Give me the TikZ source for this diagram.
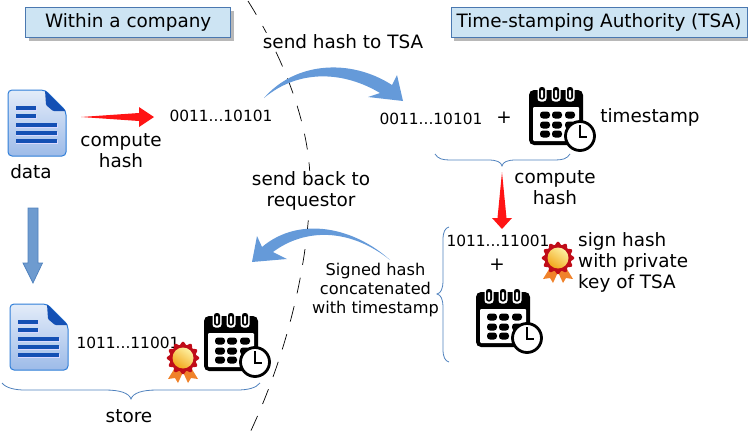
\documentclass[tikz,border=0pt]{standalone}
\usepackage{fontspec}
\setmainfont{DejaVu Sans}
\definecolor{bluearrow}{HTML}{659AD9}
\definecolor{bluebar}{HTML}{6E9BCF}
\definecolor{bracecol}{HTML}{4F81BD}
\definecolor{boxfill}{HTML}{CDE4F3}
\definecolor{boxline}{HTML}{4A78B0}
\definecolor{docline}{HTML}{1450B4}
\definecolor{docedge}{HTML}{2F7ED8}
\definecolor{doctop}{HTML}{E3ECF9}
\definecolor{docbottom}{HTML}{9DBBE8}
\definecolor{arrowred}{HTML}{FF1414}
\definecolor{sealred}{HTML}{C00C18}
\definecolor{sealgold}{HTML}{F2A81C}
\definecolor{seallight}{HTML}{FDF0A0}
\definecolor{ribbon}{HTML}{F0822A}
\tikzset{
  title/.style={rectangle,draw=boxline,line width=0.8pt,fill=boxfill,inner sep=0pt,
    minimum height=29.5pt,text=black,font=\fontsize{18.4}{21}\selectfont},
  shadowbox/.style={fill=black!28},
  label/.style={font=\fontsize{18.4}{21}\selectfont,align=center,inner sep=1pt},
  bits/.style={font=\fontsize{15.4}{18}\selectfont,inner sep=0pt},
  small/.style={font=\fontsize{16.2}{19}\selectfont,align=center,inner sep=0pt},
  bracepath/.style={draw=bracecol,line width=0.8pt},
  bluetip/.style={fill=bluearrow},
  redtip/.style={fill=arrowred},
  docicon/.pic={
    \path[rounded corners=4pt,draw=docedge,line width=1pt,top color=doctop,bottom color=docbottom]
      (0,0)--(37,0)--(58,21)--(58,66)--(0,66)--cycle;
    \fill[docline,rounded corners=1pt] (37,0)--(58,21)--(45,21)--(38,15)--cycle;
    \foreach \yy/\xx in {18/28,26/28,35/49,43/49,51/49}{
      \fill[white!85!blue] (8,\yy-1.2) rectangle (\xx+1,\yy+2.8);
      \fill[docline] (8,\yy-1.8) rectangle (\xx,\yy+1.8);
    }
  },
  calicon/.pic={
    \fill[black,rounded corners=5pt] (0,3) rectangle (54,58);
    \fill[white,rounded corners=1pt] (4,20) rectangle (50,54);
    \foreach \xx in {13,27,41}{
      \fill[white,rounded corners=3pt] (\xx-4.5,0) rectangle (\xx+4.5,14.5);
      \fill[black,rounded corners=2.5pt] (\xx-3,0) rectangle (\xx+3,12.5);
      \fill[white,rounded corners=1pt] (\xx-1.2,3) rectangle (\xx+1.2,11);
    }
    \foreach \xx in {16,28,41}\foreach \yy in {28,38,47}{
      \fill[black,rounded corners=3pt] (\xx-5,\yy-3.5) rectangle (\xx+5,\yy+3.5);
    }
    \draw[black,fill=white,line width=2.8pt] (51,49) circle (14.5pt);
    \draw[black,line width=2.4pt] (51,38)--(51,50)--(58,50);
  },
  rosette/.pic={
    \fill[ribbon] (-7,8)--(-15,21)--(-8,20)--(-5,25)--(1,12)--cycle;
    \fill[ribbon] (7,8)--(15,21)--(8,20)--(5,25)--(-1,12)--cycle;
    \fill[sealred] plot[domain=0:360,samples=97] ({(14.8+1.5*cos(12*\x))*cos(\x)},{(14.8+1.5*cos(12*\x))*sin(\x)}) -- cycle;
    \shade[left color=seallight,right color=sealgold,shading angle=-35] (0,0) circle (10.5pt);
  },
}
\begin{document}
\begin{tikzpicture}[x=1pt,y=-1pt]
\useasboundingbox (0,0) rectangle (748,439);
% separator
\coordinate (sepA) at (248,1);
\coordinate (sepB) at (247,439);
\draw[black,line width=0.7pt,dash pattern=on 16pt off 13pt]
  (sepA) .. controls (285,60) and (312,130) .. (310,190)
  .. controls (308,270) and (285,360) .. (sepB);
% titles
\fill[shadowbox] (29,10.5) rectangle (234,40.5);
\fill[shadowbox] (454,10.5) rectangle (748,40.5);
\node[title,minimum width=205pt] (within) at (128.2,22.3) {Within a company};
\node[title,minimum width=296pt] (tsa) at (599,22.3) {Time-stamping Authority (TSA)};
% labels
\node[label,fill=white] (sendhash) at (343,41.5) {send hash to TSA};
\node[label,fill=white] (sendback) at (311,191) {send back to\\requestor};
\node[label] (data) at (31,171.5) {data};
\node[label] (hash1) at (121,150.5) {compute\\hash};
\node[bits] (bitsA) at (221,116) {0011...10101};
\node[bits] (bitsB) at (431,119) {0011...10101};
\node[label] (plusA) at (504,118) {+};
\node[label] (stamp) at (650,117) {timestamp};
\node[label] (hash2) at (555,188) {compute\\hash};
\node[bits] (bitsC) at (498,241) {1011...11001};
\node[label] (plusB) at (497,265) {+};
\node[label,align=left,anchor=west] (sign) at (577,262) {sign hash\\with private\\key of TSA};
\node[small] (signed) at (375.5,290) {Signed hash\\concatenated\\with timestamp};
\node[bits] (bitsD) at (128,343) {1011...11001};
\node[label] (store) at (129,416) {store};
% icons
\pic at (8,90) {docicon};
\pic at (10,304) {docicon};
\pic at (529,87) {calicon};
\pic at (476,289) {calicon};
\pic at (204,313) {calicon};
\pic at (558,258) {rosette};
\pic at (183,358) {rosette};
% red arrows
\coordinate (redA) at (81,117);
\coordinate (redAt) at (154,117);
\fill[redtip] (redA) -- (139,113) -- (139,107) -- (redAt) -- (139,127) -- (139,121) -- cycle;
\coordinate (redB) at (502,172);
\coordinate (redBt) at (502,229);
\fill[redtip] (redB) -- (506.5,218) -- (512,218) -- (redBt) -- (492,218) -- (497.5,218) -- cycle;
% straight blue arrow
\coordinate (blueS) at (33,208);
\coordinate (blueT) at (33,283);
\draw[bracecol,fill=bluebar,line width=0.7pt]
  (28,208) -- (38,208) -- (38,263) -- (42.5,263) -- (blueT) -- (23,263) -- (28,263) -- cycle;
% curved blue arrows
\coordinate (curveA) at (264,98);
\coordinate (curveAt) at (403,101);
\fill[bluetip] (curveA) .. controls (295,62) and (350,58) .. (392,85)
  -- (397,75) -- (curveAt) -- (368,97) -- (380,93)
  .. controls (345,72) and (300,68) .. (curveA) -- cycle;
\coordinate (curveB) at (390,260);
\coordinate (curveBt) at (252,262);
\fill[bluetip] (curveB) .. controls (355,228) and (300,215) .. (262,247)
  -- (257,236) -- (curveBt) -- (287,259) -- (273,252)
  .. controls (305,228) and (350,228) .. (curveB) -- cycle;
% braces
\draw[bracepath] (435,154) .. controls (438,159) and (443,160) .. (450,160)
  -- (488,160) .. controls (497,160) and (501,162) .. (502,166)
  .. controls (503,162) and (507,160) .. (516,160)
  -- (555,160) .. controls (562,160) and (567,159) .. (570,154);
\draw[bracepath] (2,383) .. controls (6,388) and (15,390) .. (25,390)
  -- (105,390) .. controls (120,390) and (129,393) .. (131,399)
  .. controls (133,393) and (142,390) .. (157,390)
  -- (237,390) .. controls (248,390) and (256,388) .. (260,383);
\draw[bracepath] (449,227) .. controls (445,228) and (443,232) .. (443,240)
  -- (443,280) .. controls (443,289) and (441,293) .. (437,294)
  .. controls (441,295) and (443,299) .. (443,308)
  -- (443,349) .. controls (443,357) and (445,361) .. (449,362);
\end{tikzpicture}
\end{document}
